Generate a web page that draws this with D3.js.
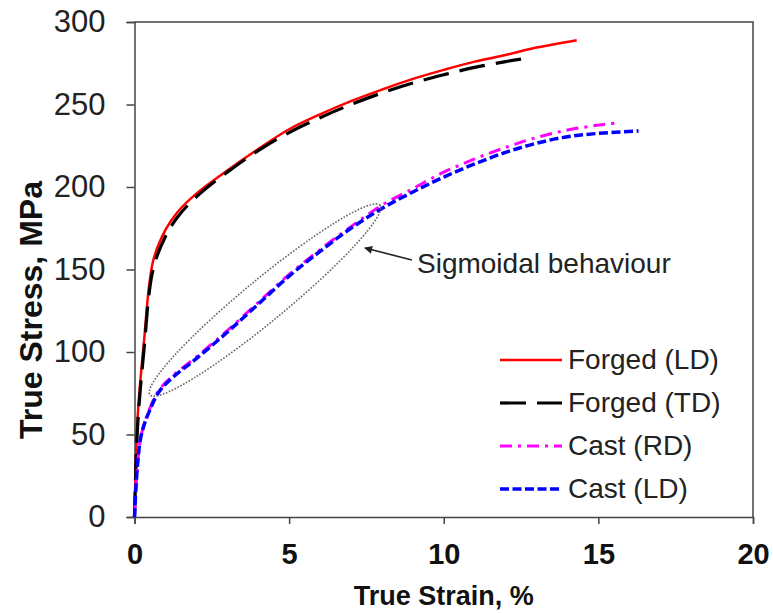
<!DOCTYPE html>
<html>
<head>
<meta charset="utf-8">
<script src="https://cdn.jsdelivr.net/npm/d3@7"></script>
<style>
  body { margin: 0; background: #fff; }
  svg { display: block; font-family: Arial, "Liberation Sans", sans-serif; }
</style>
</head>
<body>
<div id="chart"></div>
<script>
const width = 773;
const height = 613;

// true strain (%) and true stress (MPa)
const forgedLdStrain = [0, 0.1, 0.3, 0.6, 1.0, 1.4, 2, 3, 4, 5, 6, 7, 8, 9, 10, 11, 12, 13, 14.3];
const forgedLdStress = [0, 60, 105, 155, 174, 185, 196, 210, 223, 235, 244, 252, 259, 265.5, 271, 276, 280, 284.5, 289];

const forgedTdStrain = [0, 0.1, 0.3, 0.6, 1.0, 1.4, 2, 3, 4, 5, 6, 7, 8, 9, 10, 11, 12, 12.5];
const forgedTdStress = [0, 55, 100, 150, 170, 182, 194, 209, 222, 233, 242, 250, 257, 263, 268, 272.5, 276, 277.5];

const castRdStrain = [0, 0.2, 0.5, 0.8, 1.2, 2, 3, 4, 5, 6, 7, 8, 9, 10, 11, 12, 13, 14, 15, 15.7];
const castRdStress = [0, 48, 66, 77, 85, 97, 113, 130, 147, 162, 176, 189, 199, 209, 217, 224, 230, 234.5, 237.5, 239];

const castLdStrain = [0, 0.2, 0.5, 0.8, 1.2, 2, 3, 4, 5, 6, 7, 8, 9, 10, 11, 12, 13, 14, 15, 16.3];
const castLdStress = [0, 48, 65, 76, 84, 96, 112, 129, 146, 161, 175, 187, 197, 206, 214, 221, 226.5, 230.5, 232.5, 234];

const seriesNames = ["Forged (LD)", "Forged (TD)", "Cast (RD)", "Cast (LD)"];
const xTicks = [0, 5, 10, 15, 20];
const yTicks = [0, 50, 100, 150, 200, 250, 300];

const series = [
  { name: seriesNames[0], x: forgedLdStrain, y: forgedLdStress, color: "#ff0000", dash: null, w: 2.5 },
  { name: seriesNames[1], x: forgedTdStrain, y: forgedTdStress, color: "#000000", dash: "26,11", w: 3.2 },
  { name: seriesNames[2], x: castRdStrain, y: castRdStress, color: "#ff00ff", dash: "12,6,3,6", w: 3 },
  { name: seriesNames[3], x: castLdStrain, y: castLdStress, color: "#0000ff", dash: "9,3.5", w: 3.5 }
];

const x = d3.scaleLinear().domain([0, 20]).range([134.5, 753]);
const y = d3.scaleLinear().domain([0, 300]).range([517, 22]);

const svg = d3.select("#chart")
  .append("svg")
  .attr("width", width)
  .attr("height", height);

// frame (top + right)
svg.append("path")
  .attr("d", `M${x(0)},${y(300)}H${x(20)}V${y(0)}`)
  .attr("fill", "none")
  .attr("stroke", "#444")
  .attr("stroke-width", 1.5);

const xAxis = svg.append("g")
  .attr("transform", `translate(0,${y(0)})`)
  .call(d3.axisBottom(x).tickValues(xTicks).tickSize(7).tickPadding(19));
xAxis.selectAll("text")
  .attr("font-size", 29)
  .attr("font-weight", "bold")
  .attr("fill", "#111");

const yAxis = svg.append("g")
  .attr("transform", `translate(${x(0)},0)`)
  .call(d3.axisLeft(y).tickValues(yTicks).tickSize(8).tickPadding(21));
yAxis.selectAll("text")
  .attr("font-size", 31)
  .attr("fill", "#222");

svg.selectAll(".domain, .tick line")
  .attr("stroke", "#444")
  .attr("stroke-width", 1.5);

// axis titles
svg.append("text")
  .attr("x", x(10))
  .attr("y", 605)
  .attr("text-anchor", "middle")
  .attr("font-size", 27)
  .attr("font-weight", "bold")
  .attr("fill", "#111")
  .text("True Strain, %");

svg.append("text")
  .attr("transform", "translate(42,310) rotate(-90)")
  .attr("text-anchor", "middle")
  .attr("font-size", 32)
  .attr("font-weight", "bold")
  .attr("fill", "#111")
  .text("True Stress, MPa");

// curves
const line = d3.line()
  .x(d => x(d[0]))
  .y(d => y(d[1]))
  .curve(d3.curveCatmullRom.alpha(0.5));

svg.append("g")
  .selectAll("path")
  .data(series)
  .join("path")
  .attr("d", s => line(s.x.map((v, i) => [v, s.y[i]])))
  .attr("fill", "none")
  .attr("stroke", s => s.color)
  .attr("stroke-width", s => s.w)
  .attr("stroke-dasharray", s => s.dash);

// annotation: dotted ellipse round the sigmoidal part
const cx = x(4.22), cy = y(131.5);
svg.append("ellipse")
  .attr("cx", cx)
  .attr("cy", cy)
  .attr("rx", 149)
  .attr("ry", 21)
  .attr("transform", `rotate(-39.5,${cx},${cy})`)
  .attr("fill", "none")
  .attr("stroke", "#666")
  .attr("stroke-width", 1.6)
  .attr("stroke-dasharray", "1.6,1.6");

svg.append("defs").append("marker")
  .attr("id", "arrow")
  .attr("viewBox", "0 0 10 10")
  .attr("refX", 9)
  .attr("refY", 5)
  .attr("markerWidth", 9)
  .attr("markerHeight", 8)
  .attr("markerUnits", "userSpaceOnUse")
  .attr("orient", "auto")
  .append("path")
  .attr("d", "M0,0L10,5L0,10z")
  .attr("fill", "#222");

svg.append("line")
  .attr("x1", x(8.97))
  .attr("y1", y(155.8))
  .attr("x2", x(7.45))
  .attr("y2", y(163))
  .attr("stroke", "#222")
  .attr("stroke-width", 1.6)
  .attr("marker-end", "url(#arrow)");

svg.append("text")
  .attr("x", 417)
  .attr("y", 273)
  .attr("font-size", 28)
  .attr("fill", "#222")
  .text("Sigmoidal behaviour");

// legend
const legend = svg.append("g");
series.forEach((s, i) => {
  const ly = 360 + i * 43;
  legend.append("line")
    .attr("x1", 500).attr("x2", 562)
    .attr("y1", ly).attr("y2", ly)
    .attr("stroke", s.color)
    .attr("stroke-width", s.w)
    .attr("stroke-dasharray", s.dash);
  legend.append("text")
    .attr("x", 568)
    .attr("y", ly + 9)
    .attr("font-size", 28)
    .attr("fill", "#222")
    .text(s.name);
});
</script>
</body>
</html>
